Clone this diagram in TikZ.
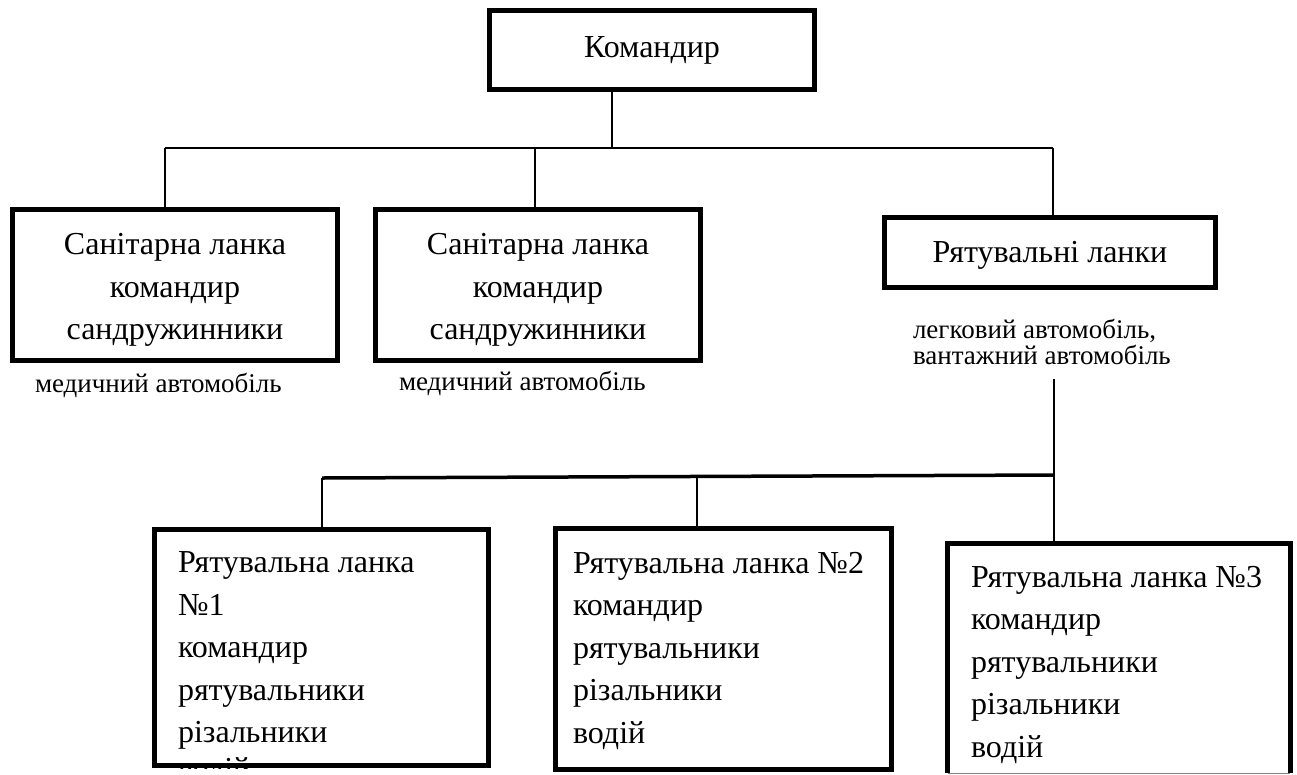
\documentclass[tikz,border=0pt]{standalone}
\usepackage{fontspec}
\setmainfont{Liberation Serif}
\usetikzlibrary{positioning}

\begin{document}
\begin{tikzpicture}[x=1pt, y=-1pt, line width=2pt]
  \tikzset{
    unit/.style= {rectangle, draw, line width=5pt, minimum width=325pt, align=center, font=\fontsize{32}{42.5}\selectfont},
    team/.style= {rectangle, draw, line width=5pt},
    roster/.style= {anchor=north west, inner sep=0pt, align=left, font=\fontsize{32}{42.5}\selectfont},
    note/.style= {inner sep=0pt, align=left, font=\fontsize{27}{26}\selectfont},
  }
  \useasboundingbox (0,0) rectangle (1297,774);

  % upper level
  \node[unit, minimum height=79pt] (cmd) at (652,50) {Командир};
  \node[unit, minimum height=151pt] (san1) at (175,285) {};
  \node[unit, minimum height=151pt] (san2) at (538,285) {};
  \node[unit, minimum width=331pt, minimum height=70pt] (resc) at (1050,252.5) {};
  \node[unit, draw=none] (san1txt) at (175,290) {Санітарна ланка\\командир\\сандружинники};
  \node[unit, draw=none] (san2txt) at (538,290) {Санітарна ланка\\командир\\сандружинники};
  \node[unit, draw=none] (resctxt) at (1050,255) {Рятувальні ланки};

  \node[note, anchor=base west] (car1) at (34,392) {медичний автомобіль};
  \node[note, anchor=base west] (car2) at (398,390) {медичний автомобіль};
  \node[note, anchor=north west] (car3) at (912,318) {легковий автомобіль,\\вантажний автомобіль};

  % lower level
  \node[team, minimum width=334pt, minimum height=236pt] (r1) at (321.5,647.5) {};
  \node[team, minimum width=336pt, minimum height=241pt] (r2) at (723.5,649) {};
  \node[team, draw=none, outer sep=0pt, minimum width=342.5pt, minimum height=229.5pt] (r3) at (1118.75,658.25) {};
  \draw[line width=5pt] (r3.south west) |- (r3.north east) -- (r3.south east);
  \draw[gray, line width=1pt] (r3.south west) -- (r3.south east);

  \begin{scope}
    \clip (r1.north west) rectangle (r1.south east);
    \node[roster] (r1txt) at (177,551) {Рятувальна ланка\\№1\\командир\\рятувальники\\різальники\\[-6pt]водій};
  \end{scope}
  \node[roster] (r2txt) at (572,551) {Рятувальна ланка №2\\командир\\рятувальники\\різальники\\водій};
  \node[roster] (r3txt) at (970,565) {Рятувальна ланка №3\\командир\\рятувальники\\різальники\\водій};

  % connectors
  \coordinate (hub) at (612,148);
  \coordinate (busL) at (165,148);
  \coordinate (busM) at (535,148);
  \coordinate (busR) at (1053,148);
  \draw (busL) -- (busR);
  \draw[line width=2.5pt] (cmd.south -| hub) -- (hub);
  \draw (busL) -- (busL |- san1.north);
  \draw (busM) -- (busM |- san2.north);
  \draw (busR) -- (busR |- resc.north);

  \coordinate (feed) at (1054,379);
  \coordinate (lowL) at (322,478);
  \coordinate (lowM) at (697,477);
  \coordinate (lowR) at (1054,475);
  \draw[line width=3.5pt] (lowL) -- (lowR);
  \draw (feed) -- (feed |- r3.north);
  \draw (lowL) -- (lowL |- r1.north);
  \draw (lowM) -- (lowM |- r2.north);
\end{tikzpicture}
\end{document}
